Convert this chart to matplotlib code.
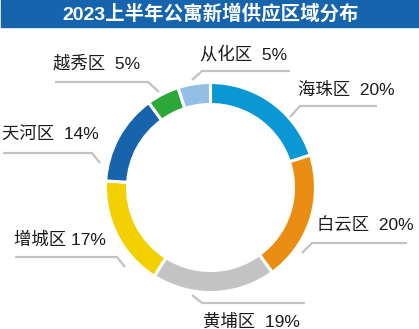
import matplotlib
matplotlib.use("Agg")
import matplotlib.pyplot as plt
from matplotlib.patches import Rectangle

# ---- data ----
districts = ["海珠区", "白云区", "黄埔区", "增城区", "天河区", "越秀区", "从化区"]
shares = [20, 20, 19, 17, 14, 5, 5]
label_texts = ["海珠区  20%", "白云区  20%", "黄埔区  19%", "增城区 17%",
               "天河区  14%", "越秀区  5%", "从化区  5%"]
colors = ["#0a97d4", "#e98e12", "#c3c3c3", "#f3d000", "#1864ac", "#2ca838", "#93bfe6"]
title = "2023上半年公寓新增供应区域分布"

W, H = 419, 329
FONT = ["Liberation Sans", "Noto Sans CJK SC", "DejaVu Sans"]

fig = plt.figure(figsize=(W / 100, H / 100), dpi=100)
ax = fig.add_axes([0, 0, 1, 1])

# donut (layout in pixel coordinates, y measured from the top)
cx, cy, r_out, ring = 210.5, 187.5, 105, 22
ax.pie(shares, colors=colors, startangle=90, counterclock=False,
       center=(cx, H - cy), radius=r_out,
       wedgeprops=dict(width=ring, edgecolor="white", linewidth=2.2))
ax.set_xlim(0, W)
ax.set_ylim(0, H)
ax.set_aspect("equal")
ax.axis("off")

# title bar
ax.add_patch(Rectangle((1, H - 27), W - 1, 27, color="#1664ad", zorder=5))
ax.text(W / 2 + 1, H - 14, title, color="white", fontsize=14, fontweight="bold",
        family=FONT, ha="center", va="center", zorder=6)

# label layout: (text x, text y, leader polyline points) in pixels from top-left
layout = [
    (298, 90, [(377, 106), (300, 106), (290, 117)]),
    (317, 225, [(407, 243), (312, 243), (302, 253)]),
    (203, 322, [(305, 303), (202, 303), (192, 295)]),
    (14, 240, [(15, 257), (117, 257), (125, 267)]),
    (2, 134, [(3, 153), (92, 153), (100, 163)]),
    (53, 63, [(55, 82), (148, 82), (159, 92)]),
    (200, 54, [(290, 71), (202, 71), (192, 80)]),
]

for txt, (tx, ty, pts) in zip(label_texts, layout):
    xs = [p[0] for p in pts]
    ys = [H - p[1] for p in pts]
    ax.plot(xs, ys, color="#c2c2c2", lw=1.6, solid_capstyle="butt",
            solid_joinstyle="miter")
    ax.text(tx, H - ty, txt, fontsize=12.5, family=FONT, color="#1a1a1a",
            ha="left", va="center")

fig.savefig("out.png", dpi=100, facecolor="white")
